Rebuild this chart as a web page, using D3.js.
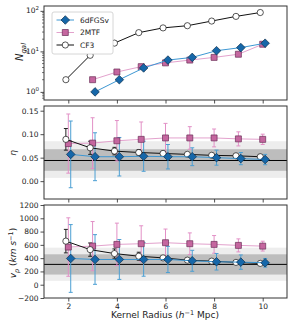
<!DOCTYPE html>
<html>
<head>
<meta charset="utf-8"/>
<style>
  body { margin: 0; background: #fff; }
  text { font-family: "DejaVu Sans", sans-serif; }
</style>
</head>
<body>
<div id="chart"></div>
<script src="https://cdn.jsdelivr.net/npm/d3@7"></script>
<script>

// ---------- data ----------
var radius = [2, 3, 4, 5, 6, 7, 8, 9, 10];

// galaxy counts (null where not drawn)
var ngal6df  = [null, 1, 2, 3.9, 6.1, 7.1, 10.4, 12.4, 15.9];
var ngal2mtf = [null, 2, 3.1, 4.2, 5.2, 6.1, 7.1, 8.5, 15];
var ngalCF3  = [2, 8, 16, 29, 38, 43, 56, 73, 91];

// eta
var eta6df     = [0.057, 0.052, 0.052, 0.053, 0.052, 0.052, 0.050, 0.048, 0.046];
var eta6dfErr  = [0.071, 0.051, 0.041, 0.032, 0.026, 0.019, 0.016, 0.013, 0.011];
var eta2mtf    = [0.080, 0.081, 0.086, 0.089, 0.092, 0.092, 0.092, 0.090, 0.089];
var eta2mtfErr = [0.063, 0.054, 0.043, 0.037, 0.031, 0.024, 0.019, 0.015, 0.011];
var etaCF3     = [0.089, 0.071, 0.064, 0.061, 0.059, 0.057, 0.055, 0.054, 0.052];
var etaCF3Err  = [0.023, 0.014, 0.008, 0.006, 0.005, 0.004, 0.003, 0.003, 0.003];

// v_p
var vp6df     = [395, 380, 380, 380, 380, 360, 345, 340, 330];
var vp6dfErr  = [510, 374, 300, 252, 197, 158, 124, 108, 65];
var vp2mtf    = [567, 581, 607, 617, 632, 617, 607, 592, 581];
var vp2mtfErr = [440, 370, 320, 270, 206, 163, 133, 98, 74];
var vpCF3     = [656, 528, 469, 429, 404, 370, 355, 336, 321];
var vpCF3Err  = [177, 100, 70, 60, 30, 25, 20, 18, 15];

// reference bands: [outer lo, inner lo, value, inner hi, outer hi]
var etaBand = [0.007, 0.022, 0.044, 0.068, 0.085];
var vpBand  = [59, 153, 306, 458, 558];

var xTicks   = [2, 4, 6, 8, 10];
var etaTicks = [0, 0.05, 0.10, 0.15];
var vpTicks  = [-200, 0, 200, 400, 600, 800, 1000, 1200];
var nTicks   = [1, 10, 100];

// ---------- styles ----------
var series = [
  {name: "2MTF",   dx: 0,    line: "#e3a2cd", err: "#e290c6", fill: "#c5669f", edge: "#6a2e58", shape: "square"},
  {name: "CF3",    dx: -0.1, line: "#111",    err: "#222",    fill: "#fff",    edge: "#111",    shape: "circle"},
  {name: "6dFGSv", dx: 0.1,  line: "#3d97d3", err: "#4c9fd3", fill: "#1667a9", edge: "#0d2f4d", shape: "diamond"}
];
var legendOrder = ["6dFGSv", "2MTF", "CF3"];

var W = 293, H = 327;
var L = 44, R = 287;

var svg = d3.select("#chart").append("svg")
    .attr("width", W).attr("height", H);

var x = d3.scaleLinear().domain([1, 11]).range([L, R]);

var panels = [
  {top: 6,   bot: 100, y: d3.scaleLog().domain([Math.pow(10, -0.2), Math.pow(10, 2.12)]).range([100, 6])},
  {top: 106, bot: 199, y: d3.scaleLinear().domain([-0.038, 0.16]).range([199, 106])},
  {top: 205, bot: 298, y: d3.scaleLinear().domain([-200, 1200]).range([298, 205])}
];

function symbolPath(shape) {
  if (shape == "square") return "M-3,-3H3V3H-3Z";
  if (shape == "diamond") return "M0,-4.3L4.3,0L0,4.3L-4.3,0Z";
  return d3.arc()({innerRadius: 0, outerRadius: 3.1, startAngle: 0, endAngle: 2 * Math.PI});
}

function drawMarkers(g, s, xs, ys, yscale) {
  var pts = [];
  xs.forEach(function(v, i) { if (ys[i] != null) pts.push([v, ys[i]]); });
  g.append("path")
    .attr("d", d3.line().x(function(d) { return x(d[0] + s.dx); })
                        .y(function(d) { return yscale(d[1]); })(pts))
    .attr("fill", "none").attr("stroke", s.line).attr("stroke-width", 1);
  g.selectAll(null).data(pts).enter().append("path")
    .attr("transform", function(d) { return "translate(" + x(d[0] + s.dx) + "," + yscale(d[1]) + ")"; })
    .attr("d", symbolPath(s.shape))
    .attr("fill", s.fill).attr("stroke", s.edge).attr("stroke-width", 0.7);
}

function drawErr(g, s, xs, ys, es, yscale) {
  xs.forEach(function(v, i) {
    var cx = x(v + s.dx), y0 = yscale(ys[i] - es[i]), y1 = yscale(ys[i] + es[i]);
    g.append("line").attr("x1", cx).attr("x2", cx).attr("y1", y0).attr("y2", y1)
      .attr("stroke", s.err).attr("stroke-width", 1);
    [y0, y1].forEach(function(yy) {
      g.append("line").attr("x1", cx - 2).attr("x2", cx + 2).attr("y1", yy).attr("y2", yy)
        .attr("stroke", s.err).attr("stroke-width", 1);
    });
  });
}

function drawBand(g, p, b) {
  var y = p.y;
  g.append("rect").attr("x", L).attr("width", R - L)
    .attr("y", y(b[4])).attr("height", y(b[0]) - y(b[4])).attr("fill", "#ededed");
  g.append("rect").attr("x", L).attr("width", R - L)
    .attr("y", y(b[3])).attr("height", y(b[1]) - y(b[3])).attr("fill", "#bdbdbd");
  g.append("line").attr("x1", L).attr("x2", R).attr("y1", y(b[2])).attr("y2", y(b[2]))
    .attr("stroke", "#000").attr("stroke-width", 1);
}

function drawAxes(p, yTicks, fmt, showX) {
  var g = svg.append("g");
  g.append("g").attr("transform", "translate(0," + p.bot + ")")
    .call(d3.axisBottom(x).tickValues(xTicks).tickSize(3.5).tickPadding(2)
      .tickFormat(showX ? d3.format("d") : ""));
  g.append("g").attr("transform", "translate(" + L + ",0)")
    .call(d3.axisLeft(p.y).tickValues(yTicks).tickSize(3.5).tickPadding(2).tickFormat(fmt));
  g.selectAll(".domain").remove();
  g.selectAll(".tick line").attr("stroke", "#222").attr("stroke-width", 0.8);
  g.selectAll(".tick text").attr("font-size", 7.5).attr("fill", "#222")
    .attr("font-family", "DejaVu Sans");
  svg.append("rect").attr("x", L).attr("y", p.top)
    .attr("width", R - L).attr("height", p.bot - p.top)
    .attr("fill", "none").attr("stroke", "#333").attr("stroke-width", 1);
  return g;
}

// ---------- panel 1: N_gal ----------
var p1 = panels[0];
var g1 = svg.append("g");
var ng = {"6dFGSv": ngal6df, "2MTF": ngal2mtf, "CF3": ngalCF3};
series.forEach(function(s) { drawMarkers(g1, s, radius, ng[s.name], p1.y); });

var ax1 = drawAxes(p1, nTicks, function() { return ""; }, false);
// minor log ticks
var minor = [];
[0.1, 1, 10, 100].forEach(function(dec) {
  for (var k = 2; k <= 9; k++) {
    var v = dec * k;
    if (v > p1.y.domain()[0] && v < p1.y.domain()[1]) minor.push(v);
  }
});
svg.selectAll(null).data(minor).enter().append("line")
  .attr("x1", L - 2).attr("x2", L).attr("y1", function(d) { return p1.y(d); })
  .attr("y2", function(d) { return p1.y(d); })
  .attr("stroke", "#222").attr("stroke-width", 0.6);
// 10^n labels
nTicks.forEach(function(v, i) {
  var t = svg.append("text").attr("x", L - 5).attr("y", p1.y(v) + 2.5)
    .attr("text-anchor", "end").attr("font-size", 7.5).attr("fill", "#222");
  t.append("tspan").text("10");
  t.append("tspan").attr("dy", -3).attr("font-size", 5.5).text(i);
});

// legend
var lg = svg.append("g");
lg.append("rect").attr("x", 52).attr("y", 12).attr("width", 61).attr("height", 42)
  .attr("fill", "#fff").attr("stroke", "#ccc").attr("stroke-width", 0.8).attr("rx", 2);
legendOrder.forEach(function(name, i) {
  var s = series.filter(function(d) { return d.name == name; })[0];
  var yy = 20 + i * 12.5;
  lg.append("line").attr("x1", 56.5).attr("x2", 74).attr("y1", yy).attr("y2", yy)
    .attr("stroke", s.line).attr("stroke-width", 1);
  lg.append("path").attr("transform", "translate(65.3," + yy + ")")
    .attr("d", symbolPath(s.shape)).attr("fill", s.fill).attr("stroke", s.edge).attr("stroke-width", 0.7);
  lg.append("text").attr("x", 80).attr("y", yy + 2.7).attr("font-size", 7.5).attr("fill", "#222").text(name);
});

// ---------- panel 2: eta ----------
var p2 = panels[1];
var g2 = svg.append("g");
drawBand(g2, p2, etaBand);
var et = {"6dFGSv": [eta6df, eta6dfErr], "2MTF": [eta2mtf, eta2mtfErr], "CF3": [etaCF3, etaCF3Err]};
series.forEach(function(s) { drawErr(g2, s, radius, et[s.name][0], et[s.name][1], p2.y); });
series.forEach(function(s) { drawMarkers(g2, s, radius, et[s.name][0], p2.y); });
drawAxes(p2, etaTicks, d3.format(".2f"), false);

// ---------- panel 3: v_p ----------
var p3 = panels[2];
var g3 = svg.append("g");
drawBand(g3, p3, vpBand);
var vp = {"6dFGSv": [vp6df, vp6dfErr], "2MTF": [vp2mtf, vp2mtfErr], "CF3": [vpCF3, vpCF3Err]};
series.forEach(function(s) { drawErr(g3, s, radius, vp[s.name][0], vp[s.name][1], p3.y); });
series.forEach(function(s) { drawMarkers(g3, s, radius, vp[s.name][0], p3.y); });
drawAxes(p3, vpTicks, function(d) { return d < 0 ? "\u2212" + (-d) : d; }, true);

// ---------- axis labels ----------
var yl1 = svg.append("text").attr("transform", "translate(23,52) rotate(-90)")
  .attr("text-anchor", "middle").attr("font-size", 10).attr("font-style", "italic").attr("fill", "#222");
yl1.append("tspan").text("N");
yl1.append("tspan").attr("dy", 2.5).attr("font-size", 7).text("gal");

svg.append("text").attr("transform", "translate(16,153) rotate(-90)")
  .attr("text-anchor", "middle").attr("font-size", 9).attr("font-style", "italic").attr("fill", "#222")
  .text("\u03b7");

var yl3 = svg.append("text").attr("transform", "translate(16,253) rotate(-90)")
  .attr("text-anchor", "middle").attr("font-size", 9).attr("fill", "#222");
yl3.append("tspan").attr("font-style", "italic").text("v");
yl3.append("tspan").attr("dy", 2.5).attr("font-size", 6.5).attr("font-style", "italic").text("p");
yl3.append("tspan").attr("dy", -2.5).text(" (");
yl3.append("tspan").attr("font-style", "italic").text("km s");
yl3.append("tspan").attr("dy", -3.5).attr("font-size", 6.5).text("\u22121");
yl3.append("tspan").attr("dy", 3.5).text(")");

var xl = svg.append("text").attr("x", 165).attr("y", 318)
  .attr("text-anchor", "middle").attr("font-size", 9).attr("fill", "#222");
xl.append("tspan").text("Kernel Radius (");
xl.append("tspan").attr("font-style", "italic").text("h");
xl.append("tspan").attr("dy", -3.5).attr("font-size", 6.5).text("\u22121");
xl.append("tspan").attr("dy", 3.5).text(" Mpc)");

</script>
</body>
</html>
